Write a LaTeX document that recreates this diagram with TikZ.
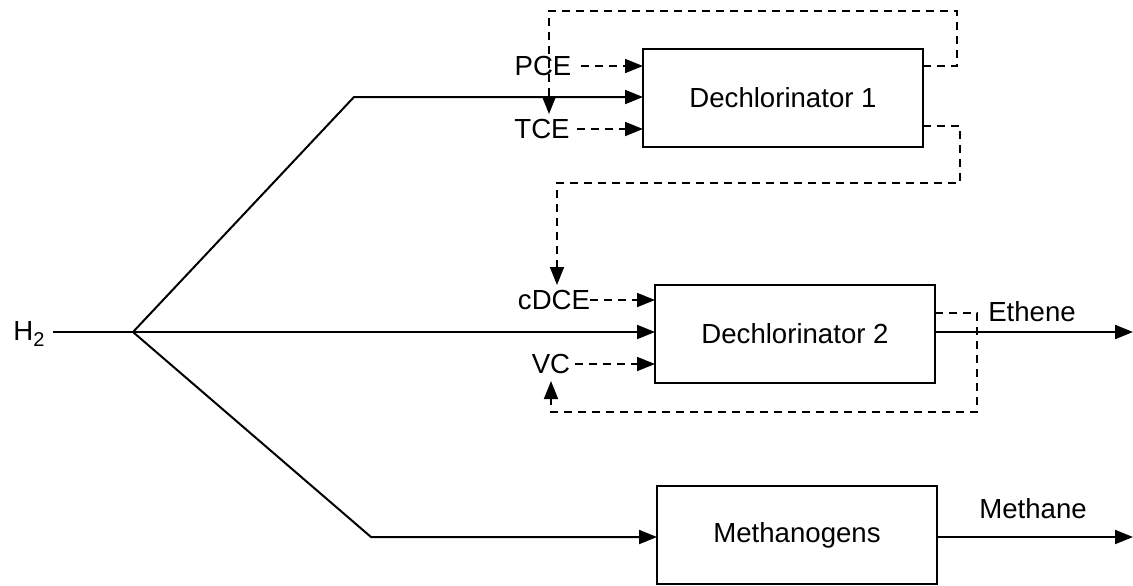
\documentclass[tikz,border=0pt]{standalone}
\usepackage{fontspec}
\setmainfont{Liberation Sans}
\usetikzlibrary{arrows.meta}
\begin{document}
\begin{tikzpicture}[x=0.5pt,y=-0.5pt,
  every node/.style={font=\fontsize{13.8pt}{16pt}\selectfont,inner sep=0pt,outer sep=0pt},
  box/.style={draw,line width=1pt,minimum width=140pt,minimum height=49pt},
  ln/.style={line width=1pt},
  arr/.style={-{Triangle[length=9pt,width=7pt]}},
  dsh/.style={line width=0.9pt,dash pattern=on 4pt off 3pt}]
\useasboundingbox (0,0) rectangle (1133,585);
% boxes
\node[box] (d1) at (783,98) {Dechlorinator 1};
\node[box] (d2) at (795,333.5) {Dechlorinator 2};
\node[box] (m) at (797,535) {Methanogens};
% labels
\node (h2) at (29,334) {H\raisebox{-0.2em}{\fontsize{10pt}{12pt}\selectfont 2}};
\node (pce) at (543,66) {PCE};
\node (tce) at (542,129) {TCE};
\node (cdce) at (554,300) {cDCE};
\node (vc) at (551,364) {VC};
\node (eth) at (1032,312) {Ethene};
\node (meth) at (1033,509) {Methane};
% H2 branches
\coordinate (split) at (133,332);
\coordinate (up) at (354,97);
\coordinate (lo) at (371,537);
\coordinate (h2s) at (53,332);
\draw[ln] (h2s) -- (split);
\draw[ln,arr] (split) -- (up) -- (up -| d1.west);
\draw[ln,arr] (split) -- (split -| d2.west);
\draw[ln,arr] (split) -- (lo) -- (lo -| m.west);
% outputs
\coordinate (ethend) at (1133,332);
\coordinate (methend) at (1133,537);
\draw[ln,arr] (d2.east |- ethend) -- (ethend);
\draw[ln,arr] (m.east |- methend) -- (methend);
% dashed inputs
\draw[dsh,arr] ([xshift=5pt]pce.east) -- (pce -| d1.west);
\draw[dsh,arr] ([xshift=3.5pt]tce.east) -- (tce -| d1.west);
\draw[dsh,arr] (cdce.east) -- (cdce -| d2.west);
\draw[dsh,arr] ([xshift=2.5pt]vc.east) -- (vc -| d2.west);
% loops
\coordinate (a1) at (957,66);
\coordinate (a2) at (549,11);
\coordinate (a3) at (549,114);
\draw[dsh,arr] (d1.east |- a1) -- (a1) |- (a2) -- (a3);
\coordinate (b1) at (960,126);
\coordinate (b2) at (557,183);
\coordinate (b3) at (557,285);
\draw[dsh,arr] (d1.east |- b1) -- (b1) |- (b2) -- (b3);
\coordinate (c1) at (977,313);
\coordinate (c2) at (551,412);
\coordinate (c3) at (551,381);
\draw[dsh,arr] (d2.east |- c1) -- (c1) |- (c2) -- (c3);
\end{tikzpicture}
\end{document}
